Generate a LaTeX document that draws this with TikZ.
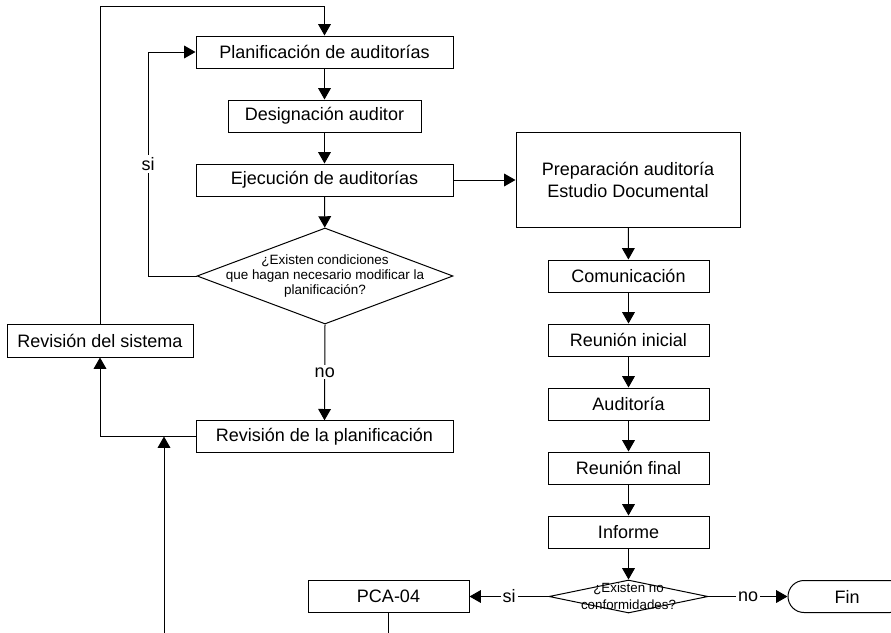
\documentclass[tikz,border=0pt]{standalone}
\usepackage{fontspec}
\setmainfont{Liberation Sans}
\usetikzlibrary{shapes.geometric,arrows.meta}
\begin{document}
\begin{tikzpicture}[x=0.75pt,y=-0.75pt,
  box/.style={draw,line width=0.75pt,rectangle,inner sep=0pt,font=\fontsize{13.5}{16.5}\selectfont,align=center},
  dia/.style={draw,line width=0.75pt,diamond,inner sep=0pt},
  arr/.style={line width=0.75pt,-{Triangle[length=8.5pt,width=9.5pt]}},
  ln/.style={line width=0.75pt},
  lbl/.style={fill=white,inner sep=1.5pt,font=\fontsize{13.5}{16}\selectfont}]
\useasboundingbox (0,0) rectangle (891,632);
\clip (0,0) rectangle (891,632);
% left column
\node[box,minimum width=192.75pt,minimum height=24pt] (plan) at (324.5,52) {Planificación de auditorías};
\node[box,minimum width=144.75pt,minimum height=24pt] (des) at (324.5,116) {Designación auditor};
\node[box,minimum width=192.75pt,minimum height=24pt] (ejec) at (324.5,180) {Ejecución de auditorías};
\node[dia,minimum width=192pt,minimum height=72pt,
  label={[font=\fontsize{10.1}{11.6}\selectfont,align=center]center:{¿Existen condiciones\\que hagan necesario modificar la\\planificación?}}] (d1) at (325,276) {};
\node[box,minimum width=192.75pt,minimum height=23.5pt] (revplan) at (324.5,436.5) {Revisión de la planificación};
\node[box,minimum width=139.5pt,minimum height=24.75pt] (revsis) at (100,340.5) {Revisión del sistema};
% right column
\node[box,minimum width=168pt,minimum height=71.25pt] (prep) at (628,180) {Preparación auditoría\\Estudio Documental};
\node[box,minimum width=120.75pt,minimum height=24pt] (com) at (628.5,276) {Comunicación};
\node[box,minimum width=120.75pt,minimum height=24pt] (reu) at (628.5,340) {Reunión inicial};
\node[box,minimum width=120.75pt,minimum height=24pt] (aud) at (628.5,404) {Auditoría};
\node[box,minimum width=120.75pt,minimum height=24pt] (rf) at (628.5,468) {Reunión final};
\node[box,minimum width=120.75pt,minimum height=24pt] (inf) at (628.5,532) {Informe};
\node[dia,minimum width=119.25pt,minimum height=24.75pt,
  label={[font=\fontsize{10}{12.5}\selectfont,align=center]center:{¿Existen no\\conformidades?}}] (d2) at (628.5,596.5) {};
\node[box,minimum width=120.75pt,minimum height=24pt] (pca) at (388.5,596.5) {PCA-04};
\node[box,minimum width=88.5pt,minimum height=24pt,rounded corners=12pt] (fin) at (847,596.5) {Fin};
% coordinates
\coordinate (top) at (324.5,6);
\coordinate (siloop) at (148,52);
\coordinate (pcaend) at (388.5,640);
\coordinate (upstart) at (164,640);
\coordinate (upend) at (164,436.5);
% connectors
\draw[arr] (plan) -- (des);
\draw[arr] (des) -- (ejec);
\draw[arr] (ejec) -- (d1);
\draw[arr] (d1.south) -- node[lbl]{no} (revplan.north);
\draw[arr] (d1.west) -| node[lbl,pos=0.75]{si} (siloop) -- (plan.west);
\draw[arr] (ejec.east) -- (prep.west);
\draw[arr] (prep) -- (com);
\draw[arr] (com) -- (reu);
\draw[arr] (reu) -- (aud);
\draw[arr] (aud) -- (rf);
\draw[arr] (rf) -- (inf);
\draw[arr] (inf) -- (d2);
\draw[arr] (d2.west) -- node[lbl]{si} (pca.east);
\draw[arr] (d2.east) -- node[lbl]{no} (fin.west);
\draw[ln] (pca.south) -- (pcaend);
\draw[arr] (revplan.west) -| (revsis.south);
\draw[arr] (upstart) -- (upend);
\draw[arr] (revsis.north) |- (top) -- (plan.north);
\end{tikzpicture}
\end{document}
